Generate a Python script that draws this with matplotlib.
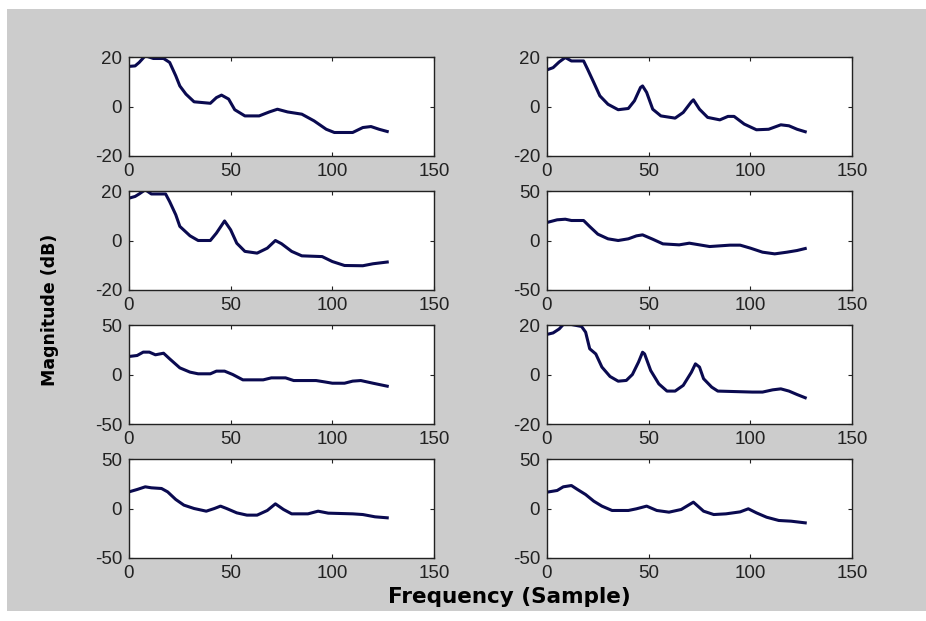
import numpy as np
import matplotlib
matplotlib.use('Agg')
from matplotlib import pyplot as plt
from matplotlib.patches import Rectangle

plt.rcParams['axes.unicode_minus'] = False

# values (frequency sample, magnitude dB)
x1 = [0, 3, 5, 8, 12, 17, 20, 23, 25, 28, 32, 40, 43, 45.5, 49, 52, 57, 64, 69, 73, 78, 85, 91, 97, 101, 110, 115, 119, 123, 127]
y1 = [16.2, 16.4, 17.8, 20.5, 19.4, 19.4, 17.8, 12.4, 8.3, 5.0, 1.9, 1.3, 3.6, 4.6, 3.0, -1.3, -3.8, -3.8, -2.2, -1.1, -2.2, -3.1, -5.8, -9.2, -10.5, -10.5, -8.5, -8.1, -9.2, -10.1]

x2 = [0, 3, 6, 9, 12, 18, 20, 23, 26, 30, 35, 40, 43, 46, 47, 49, 52, 56, 63, 67, 71, 72, 75, 79, 85, 89, 92, 97, 103, 109, 115, 119, 123, 127]
y2 = [14.8, 15.7, 18.0, 19.8, 18.4, 18.4, 15.0, 9.7, 4.3, 0.9, -1.3, -0.8, 2.3, 7.7, 8.3, 5.7, -1.1, -3.8, -4.7, -2.4, 1.9, 2.7, -1.1, -4.4, -5.4, -4.0, -4.0, -7.1, -9.4, -9.2, -7.4, -7.8, -9.2, -10.2]

x3 = [0, 3, 5, 8, 11, 18, 20, 23, 25, 30, 34, 40, 43, 47, 50, 53, 57, 63, 68, 72, 75, 80, 85, 95, 100, 106, 115, 120, 127]
y3 = [17.1, 17.8, 18.8, 20.5, 18.8, 18.8, 15.7, 10.4, 5.7, 1.9, 0.0, 0.0, 3.0, 7.9, 4.3, -1.1, -4.4, -5.1, -3.1, 0.0, -1.3, -4.4, -6.2, -6.5, -8.5, -10.1, -10.2, -9.4, -8.7]

x4 = [0, 5, 9, 12, 18, 21, 25, 30, 35, 40, 44, 47, 52, 57, 65, 70, 75, 80, 90, 95, 100, 106, 112, 118, 123, 127]
y4 = [18.2, 20.9, 21.5, 20.2, 20.2, 14.1, 6.4, 1.7, 0.0, 1.7, 4.7, 5.7, 1.3, -3.4, -4.4, -2.7, -4.4, -6.1, -4.7, -4.7, -7.7, -11.8, -13.5, -11.8, -10.1, -8.1]

x5 = [0, 4, 7, 10, 13, 17, 20, 25, 30, 34, 40, 43, 47, 51, 56, 66, 70, 77, 81, 92, 96, 100, 106, 110, 114, 120, 127]
y5 = [18.2, 19.2, 22.6, 22.6, 19.9, 21.5, 15.8, 6.7, 2.4, 0.7, 0.7, 3.4, 3.4, 0.0, -5.4, -5.4, -3.4, -3.4, -6.1, -6.1, -7.4, -8.8, -8.8, -6.7, -6.1, -8.8, -11.8]

x6 = [0, 3, 6, 8, 12, 17, 19, 21, 24, 27, 31, 35, 39, 42, 45, 47, 48, 51, 55, 59, 63, 67, 71, 73, 75, 77, 81, 84, 101, 106, 111, 115, 119, 123, 127]
y6 = [16.2, 16.8, 18.4, 20.2, 20.2, 19.4, 17.1, 10.4, 8.3, 3.0, -0.8, -2.7, -2.4, 0.0, 5.0, 9.0, 8.3, 1.6, -3.8, -6.7, -6.7, -4.4, 0.9, 4.3, 3.0, -1.7, -5.1, -6.7, -7.1, -7.1, -6.2, -5.8, -6.7, -8.1, -9.4]

x7 = [0, 4, 8, 11, 16, 19, 23, 27, 32, 38, 42, 45, 48, 53, 58, 63, 68, 72, 76, 80, 88, 93, 98, 110, 115, 121, 127]
y7 = [16.8, 19.2, 21.9, 20.9, 20.2, 16.8, 9.1, 3.4, 0.0, -2.7, 0.0, 2.4, 0.0, -4.4, -6.7, -6.7, -2.0, 4.7, -1.0, -5.4, -5.4, -2.7, -4.7, -5.4, -6.1, -8.4, -9.4]

x8 = [0, 5, 8, 12, 15, 19, 23, 27, 32, 40, 44, 49, 54, 60, 66, 72, 77, 82, 88, 95, 99, 103, 108, 114, 120, 127]
y8 = [16.5, 18.2, 21.9, 23.2, 19.2, 14.1, 7.4, 2.4, -2.0, -2.0, -0.3, 2.4, -2.0, -3.7, -1.0, 6.4, -2.7, -6.1, -5.4, -3.4, -0.3, -4.4, -8.8, -12.1, -12.8, -14.5]

xs = [x1, x2, x3, x4, x5, x6, x7, x8]
ys = [y1, y2, y3, y4, y5, y6, y7, y8]
ylims = [20, 20, 20, 50, 50, 20, 50, 50]

W, H = 926, 621
fig = plt.figure(figsize=(W / 100, H / 100), dpi=100, facecolor='white')
fig.patches.append(Rectangle((7 / W, 1 - 611 / H), 1, 602 / H,
                             transform=fig.transFigure, facecolor='#cccccc',
                             edgecolor='none', zorder=-10))

lefts = [129, 547]
tops = [57, 191, 325, 459]
aw, ah = 305, 99

for i in range(8):
    row, col = i // 2, i % 2
    ax = fig.add_axes([lefts[col] / W, 1 - (tops[row] + ah) / H, aw / W, ah / H])
    ax.plot(xs[i], ys[i], color='#0a0a50', lw=2.2)
    lim = ylims[i]
    ax.set_xlim(0, 150)
    ax.set_ylim(-lim, lim)
    ax.set_xticks([0, 50, 100, 150])
    ax.set_yticks([-lim, 0, lim])
    ax.tick_params(direction='in', top=True, right=True, length=3,
                   labelsize=13.5, pad=5, colors='#222222')
    for lab in ax.get_xticklabels() + ax.get_yticklabels():
        lab.set_family('Liberation Sans')
    for s in ax.spines.values():
        s.set_color('#222222')
        s.set_linewidth(1)

fig.text(50 / W, 1 - 310 / H, 'Magnitude (dB)', rotation=90, fontsize=12.5,
         fontweight='bold', ha='center', va='center')
fig.text(509 / W, 1 - 597 / H, 'Frequency (Sample)', fontsize=15.5,
         fontweight='bold', ha='center', va='center')

fig.savefig('out.png', dpi=100, facecolor=fig.get_facecolor())
